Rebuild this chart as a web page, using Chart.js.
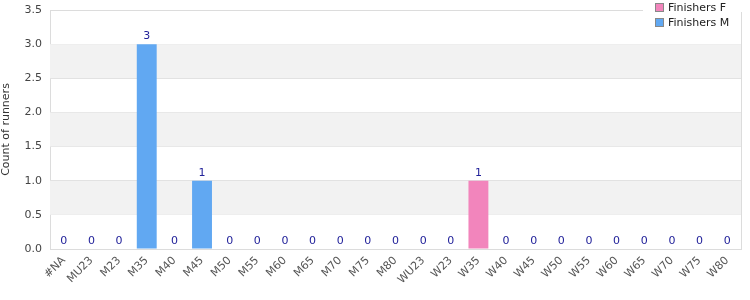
<!DOCTYPE html>
<html>
<head>
<meta charset="utf-8">
<script src="https://cdn.jsdelivr.net/npm/chart.js@4/dist/chart.umd.min.js"></script>
<style>
  html, body { margin: 0; padding: 0; background: #fff; }
  #wrap { width: 750px; height: 300px; }
</style>
</head>
<body>
<div id="wrap"><canvas id="chart" width="750" height="300"></canvas></div>
<script>
// categories on the x axis
const categories = ['#NA', 'MU23', 'M23', 'M35', 'M40', 'M45', 'M50', 'M55', 'M60', 'M65', 'M70', 'M75', 'M80',
    'WU23', 'W23', 'W35', 'W40', 'W45', 'W50', 'W55', 'W60', 'W65', 'W70', 'W75', 'W80'];

// runner counts per category
const finishersF = [0, 0, 0, 0, 0, 0, 0, 0, 0, 0, 0, 0, 0, 0, 0, 1, 0, 0, 0, 0, 0, 0, 0, 0, 0];
const finishersM = [0, 0, 0, 3, 0, 1, 0, 0, 0, 0, 0, 0, 0, 0, 0, 0, 0, 0, 0, 0, 0, 0, 0, 0, 0];

const seriesNames = ['Finishers F', 'Finishers M'];
const seriesColors = ['#f285bc', '#61a8f2'];

const FONT = '"DejaVu Sans", Verdana, sans-serif';

// grey bands + top/right frame behind the bars
const bandsPlugin = {
    id: 'bands',
    beforeDatasetsDraw(chart) {
        const { ctx, chartArea: a, scales: { y } } = chart;
        ctx.save();
        ctx.fillStyle = '#f2f2f2';
        for (let v = 0.5; v < 3.5; v += 1) {
            const top = y.getPixelForValue(v + 0.5);
            const bot = y.getPixelForValue(v);
            ctx.fillRect(a.left, top, a.right - a.left, bot - top);
        }
        ctx.restore();
    },
    afterDraw(chart) {
        const { ctx, chartArea: a } = chart;
        ctx.save();
        ctx.strokeStyle = '#dcdcdc';
        ctx.lineWidth = 1;
        ctx.beginPath();
        ctx.moveTo(a.left, a.top + 0.5);
        ctx.lineTo(a.right + 0.5, a.top + 0.5);
        ctx.lineTo(a.right + 0.5, a.bottom);
        ctx.stroke();
        ctx.restore();
    }
};

// stack totals above each category
const totalsPlugin = {
    id: 'totals',
    afterDatasetsDraw(chart) {
        const { ctx, scales: { x, y } } = chart;
        ctx.save();
        ctx.font = '11px ' + FONT;
        ctx.fillStyle = '#22229a';
        ctx.textAlign = 'center';
        ctx.textBaseline = 'middle';
        categories.forEach((c, i) => {
            const total = finishersF[i] + finishersM[i];
            ctx.fillText(String(total), x.getPixelForValue(i), y.getPixelForValue(total) - 8);
        });
        ctx.restore();
    }
};

// legend drawn over the top right corner of the plot
const legendPlugin = {
    id: 'cornerLegend',
    afterDraw(chart) {
        const { ctx, chartArea: a } = chart;
        ctx.save();
        ctx.fillStyle = '#fff';
        ctx.fillRect(a.right - 98, 0, 100, a.top + 2);
        ctx.font = '11px ' + FONT;
        ctx.textBaseline = 'middle';
        seriesNames.forEach((name, i) => {
            const cy = 8 + i * 15;
            ctx.fillStyle = seriesColors[i];
            ctx.fillRect(a.right - 85.5, cy - 4.5, 8, 8);
            ctx.strokeStyle = '#888';
            ctx.lineWidth = 1;
            ctx.strokeRect(a.right - 85.5, cy - 4.5, 8, 8);
            ctx.fillStyle = '#222';
            ctx.fillText(name, a.right - 73, cy);
        });
        ctx.restore();
    }
};

new Chart(document.getElementById('chart'), {
    type: 'bar',
    data: {
        labels: categories,
        datasets: [
            { label: seriesNames[0], data: finishersF, backgroundColor: seriesColors[0] },
            { label: seriesNames[1], data: finishersM, backgroundColor: seriesColors[1] }
        ]
    },
    options: {
        responsive: false,
        animation: false,
        layout: { padding: { top: 10, right: 9, left: 0, bottom: 0 } },
        datasets: { bar: { barPercentage: 0.72, categoryPercentage: 1 } },
        plugins: {
            legend: { display: false },
            tooltip: { enabled: false }
        },
        scales: {
            x: {
                stacked: true,
                grid: { display: false, drawTicks: false },
                border: { color: '#dcdcdc' },
                ticks: {
                    autoSkip: false,
                    maxRotation: 45,
                    minRotation: 45,
                    padding: 5,
                    color: '#555',
                    font: { family: FONT, size: 11 }
                },
                afterFit(scale) { scale.height = 51; }
            },
            y: {
                stacked: true,
                min: 0,
                max: 3.5,
                grid: { color: '#dcdcdc', drawTicks: false },
                border: { color: '#dcdcdc' },
                ticks: {
                    stepSize: 0.5,
                    padding: 8,
                    color: '#444',
                    font: { family: FONT, size: 11 },
                    callback: v => v.toFixed(1)
                },
                title: {
                    display: true,
                    text: 'Count of runners',
                    color: '#333',
                    font: { family: FONT, size: 11 },
                    padding: 0
                },
                afterFit(scale) {
                    scale.width = 50;
                    scale.paddingTop = 0;
                    scale.paddingBottom = 0;
                }
            }
        }
    },
    plugins: [bandsPlugin, totalsPlugin, legendPlugin]
});
</script>
</body>
</html>
